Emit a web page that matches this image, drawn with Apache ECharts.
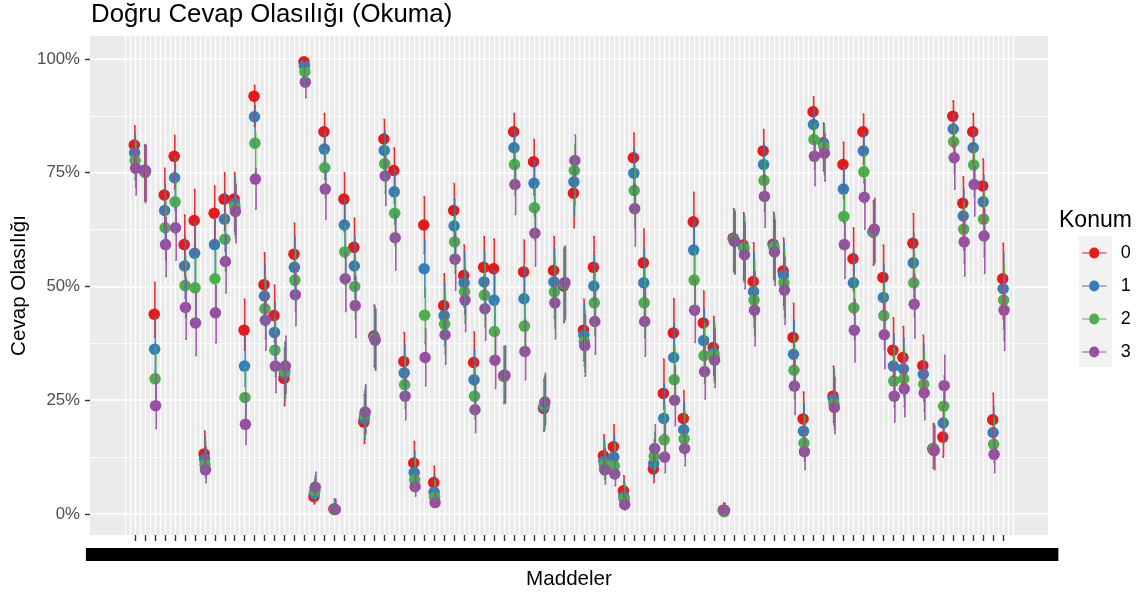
<!DOCTYPE html>
<html><head><meta charset="utf-8">
<style>html,body{margin:0;padding:0;background:#fff}#c{width:1142px;height:596px}</style>
<script src="https://cdn.jsdelivr.net/npm/echarts@6/dist/echarts.min.js"></script>
</head><body><div id="c"></div>
<script>
// Values in percent, one entry per item (88 items)
const konum0=[81.1,75.4,43.9,70.1,78.6,59.2,64.5,13.2,66.1,69.2,69.2,40.4,91.8,50.4,43.6,29.8,57.1,99.4,3.8,84,1.1,69.2,58.6,20.2,39.1,82.4,75.5,33.5,11.2,63.5,6.9,45.8,66.7,52.4,33.3,54.2,53.9,30.3,84,53.2,77.4,23.2,53.5,50.1,70.5,40.4,54.2,12.8,14.8,5.1,78.3,55.2,9.9,26.5,39.8,21,64.2,42,36.6,0.8,60.6,59.1,51.1,79.8,59.3,53.4,38.8,20.9,88.4,81.6,25.9,76.8,56.1,84,62,52,36,34.4,59.5,32.6,14.3,16.9,87.4,68.3,84,72.1,20.7,51.7];
const konum1=[79.4,75.6,36.2,66.7,73.9,54.5,57.3,12.1,59.2,64.8,68.3,32.5,87.3,47.9,39.9,30.9,54.2,98.5,4.5,80.2,1,63.5,54.5,21,38.8,79.9,70.8,31,9.1,53.9,4.8,43.6,63.3,50.8,29.5,51,47,30.5,80.5,47.3,72.7,23.5,51,50.5,73,39.3,50.1,11.6,12.5,3.8,74.9,50.8,11.1,21,34.4,18.5,58,38.1,35.5,0.7,60.4,58.7,48.9,76.8,59,52.5,35.1,18.2,85.6,81.5,25.2,71.4,50.8,79.8,62,47.6,32.5,31.9,55.2,30.7,14.4,20,84.6,65.5,80.5,68.6,17.9,49.5];
const konum2=[77.7,75,29.7,62.9,68.6,50.2,49.7,10.9,51.7,60.4,67.5,25.6,81.5,45.1,36,31.3,51.4,97.2,5.1,76.1,1,57.6,50,21.8,38.5,77,66.1,28.4,7.5,43.7,3.7,41.7,59.8,48.9,25.9,48.1,40.1,30.3,76.8,41.3,67.3,24,48.8,50.6,75.5,37.9,46.4,10.8,10.6,3.3,71.1,46.4,12.7,16.3,29.5,16.5,51.4,34.8,34.9,0.5,60.2,58.4,47,73.3,58.6,50.8,31.6,15.6,82.3,80.7,24.3,65.4,45.3,75.2,62.2,43.6,29.2,29.7,50.8,28.5,14.2,23.7,81.8,62.6,76.7,64.8,15.3,47];
const konum3=[76,75.4,23.8,59.2,62.9,45.4,42,9.7,44.2,55.5,66.5,19.7,73.6,42.6,32.5,32.5,48.2,94.9,5.9,71.4,1,51.7,45.8,22.4,38.2,74.3,60.7,25.9,6,34.4,2.5,39.4,56,47,22.9,45.1,33.8,30.5,72.4,35.7,61.7,24.6,46.4,50.9,77.7,37,42.3,9.7,8.8,2.1,67.1,42.3,14.4,12.5,25,14.4,44.8,31.3,33.8,0.8,59.9,57,44.8,69.8,57.6,49.2,28.1,13.7,78.6,79.3,23.4,59.2,40.4,69.6,62.6,39.4,25.9,27.5,46.1,26.6,13.9,28.2,78.3,59.8,72.4,61.1,13.1,44.8];
// Length of the error bar above and below each point, percent points
const ciUp=[4.2,5.6,7,5.9,4.6,6.5,6.8,5,6,5.8,5.8,6.8,2.4,7,6.7,6.6,6.8,0.6,3.3,4,2.2,5.8,6.4,6,6.8,4.3,4.9,6.4,4.7,6.2,3.6,7,5.9,6.7,6.7,6.8,6.5,6.4,4,7,4.9,6.3,7.5,8,5.6,6.8,6.8,4.6,4.8,3.3,5.4,7.4,5.2,7.5,7.5,6.1,6.5,7,6.8,1.6,6.5,7.1,8.5,4.7,7,7.2,7.5,5.9,3.3,4.3,6.6,4.9,6.8,3.9,6.8,7.1,7.1,6.8,6.5,6.7,5.5,6.7,3.4,5.8,4,5.9,5.8,7.8];
const ciDown=[5.9,6.6,5,7,7.1,7,7.2,2.8,6.6,6.9,6.9,4.4,6.6,6.6,5.8,6,6.8,3.4,1.6,6.6,0.8,7.2,7,4.7,6.6,6.5,7.1,5.2,2.1,6.2,1,6.5,6.8,6.9,5,6.9,6.2,6,6.6,6.2,7.2,5,7.9,8,7.6,6.7,7.2,3.1,2.6,1.2,8.2,7.6,3,3.4,5.6,3.8,7.1,6,6,0.5,7.2,7.5,7.8,6.8,7.4,7.5,6.2,3.9,6.4,6.1,5.7,7.4,7,7,7.3,7.4,5.7,6.1,7.4,5.9,4.2,4.4,6.9,7.5,6.9,8.2,4,8.8];
const seriesNames=['0','1','2','3'];
const seriesColors=['#E41A1C','#377EB8','#4DAF4A','#984EA3'];
const yMajorTicks=[0,25,50,75,100];
const yMinorLines=[12.5,37.5,62.5,87.5];
const itemLabels=konum0.map((_,i)=>'Madde '+(i+1));
const xTicks=itemLabels.map((_,i)=>i);
const xGridLines=[];for(let k=-2;k<=176;k++)xGridLines.push(k/2);

const groups=[konum0,konum1,konum2,konum3];
const pointShift=[-0.67,-0.22,0.22,0.67];
const lineShift=[0,0.44,0.89,1.33];
const X_MIN=-4.5,X_MAX=91.47,Y_MIN=-4.62,Y_MAX=105.05;

const series=[];
groups.forEach((vals,g)=>{
  series.push({type:'scatter',name:seriesNames[g],xAxisIndex:0,yAxisIndex:0,z:3,symbol:'circle',symbolSize:11.5,
    itemStyle:{color:seriesColors[g],opacity:1},
    data:vals.map((v,i)=>[i,v]),
    animation:false,silent:true,clip:false,
    symbolOffset:[pointShift[g],0]});
});
groups.forEach((vals,g)=>{
  series.push({type:'custom',name:'hata '+seriesNames[g],xAxisIndex:0,yAxisIndex:0,z:4,silent:true,animation:false,clip:false,
    encode:{x:0,y:[1,2]},
    data:vals.map((v,i)=>[i,Math.max(0,v-ciDown[i]),Math.min(100,v+ciUp[i])]),
    renderItem:(params,api)=>{
      const lo=api.coord([api.value(0),api.value(1)]);
      const hi=api.coord([api.value(0),api.value(2)]);
      const x=lo[0]+lineShift[g];
      const st={stroke:seriesColors[g],lineWidth:1.6,opacity:0.9,fill:'none'};
      return {type:'group',children:[
        {type:'line',shape:{x1:x,y1:lo[1],x2:x,y2:hi[1]},style:st},
        {type:'line',shape:{x1:x-1,y1:hi[1],x2:x+0.5,y2:hi[1]},style:st},
        {type:'line',shape:{x1:x-1,y1:lo[1],x2:x+0.5,y2:lo[1]},style:st}
      ]};
    }});
});

const iconPath=c=>'path://M0 4.9H8A5.5 5.5 0 0 1 19 4.9H27V6.1H19A5.5 5.5 0 0 1 8 6.1H0Z';

const chart=echarts.init(document.getElementById('c'),null,{renderer:'canvas'});
chart.setOption({
  animation:false,backgroundColor:'#fff',
  title:{text:'Doğru Cevap Olasılığı (Okuma)',left:91,top:2,padding:0,
    textStyle:{fontFamily:'Liberation Sans',fontSize:25.8,fontWeight:'normal',color:'#000'}},
  grid:{left:90,top:36,width:958,height:499,backgroundColor:'#EBEBEB',show:true,borderWidth:0,outerBoundsMode:'none'},
  xAxis:[
    {type:'value',min:X_MIN,max:X_MAX,position:'bottom',
     name:'Maddeler',nameLocation:'middle',nameGap:34,
     nameTextStyle:{fontFamily:'Liberation Sans',fontSize:20.6,color:'#000'},
     axisLine:{show:false,onZero:false},splitLine:{show:false},
     axisTick:{show:true,length:6,customValues:xTicks,lineStyle:{color:'#333',width:1.4}},
     axisLabel:{show:true,customValues:xTicks.map(v=>v+0.3),margin:13,
       formatter:v=>itemLabels[Math.floor(v)],hideOverlap:false,showMinLabel:true,showMaxLabel:true,
       fontFamily:'Liberation Sans',fontSize:11,color:'#000',backgroundColor:'#000',
       width:104,height:13,lineHeight:13,overflow:'none',align:'center',verticalAlign:'top'}},
    {type:'value',min:X_MIN,max:X_MAX,position:'bottom',show:true,
     axisLine:{show:false,onZero:false},axisTick:{show:false,customValues:xGridLines},axisLabel:{show:false,customValues:xGridLines},
     splitLine:{show:true,customValues:xGridLines,lineStyle:{color:'#fff',width:1.3}}}
  ],
  yAxis:[
    {type:'value',min:Y_MIN,max:Y_MAX,position:'left',
     name:'Cevap Olasılığı',nameLocation:'middle',nameGap:60,nameMoveOverlap:false,
     nameTextStyle:{fontFamily:'Liberation Sans',fontSize:20.6,color:'#000'},
     axisLine:{show:false,onZero:false},
     axisTick:{show:true,length:5,customValues:yMajorTicks,lineStyle:{color:'#333',width:1.4}},
     axisLabel:{show:true,customValues:yMajorTicks,margin:10,formatter:v=>v+'%',
       fontFamily:'Liberation Sans',fontSize:16.8,color:'#4D4D4D'},
     splitLine:{show:true,customValues:yMajorTicks,lineStyle:{color:'#fff',width:1.6}}},
    {type:'value',min:Y_MIN,max:Y_MAX,position:'left',show:true,
     axisLine:{show:false,onZero:false},axisTick:{show:false,customValues:yMinorLines},axisLabel:{show:false,customValues:yMinorLines},
     splitLine:{show:true,customValues:yMinorLines,lineStyle:{color:'#fff',width:0.8}}}
  ],
  legend:{show:true,left:1082,top:244,orient:'vertical',padding:0,itemWidth:27,itemHeight:11,itemGap:15,
    data:seriesNames.map(n=>({name:n,icon:iconPath()})),
    textStyle:{fontFamily:'Liberation Sans',fontSize:18,color:'#000',padding:[0,0,0,8]},selectedMode:false},
  graphic:[
    {type:'rect',left:1079,top:236,z:-1,shape:{width:33,height:131},style:{fill:'#F2F2F2'},silent:true},
    {type:'text',left:1059,top:209,style:{text:'Konum',fontFamily:'Liberation Sans',fontSize:23,fill:'#000'},silent:true}
  ],
  series
});
</script></body></html>
